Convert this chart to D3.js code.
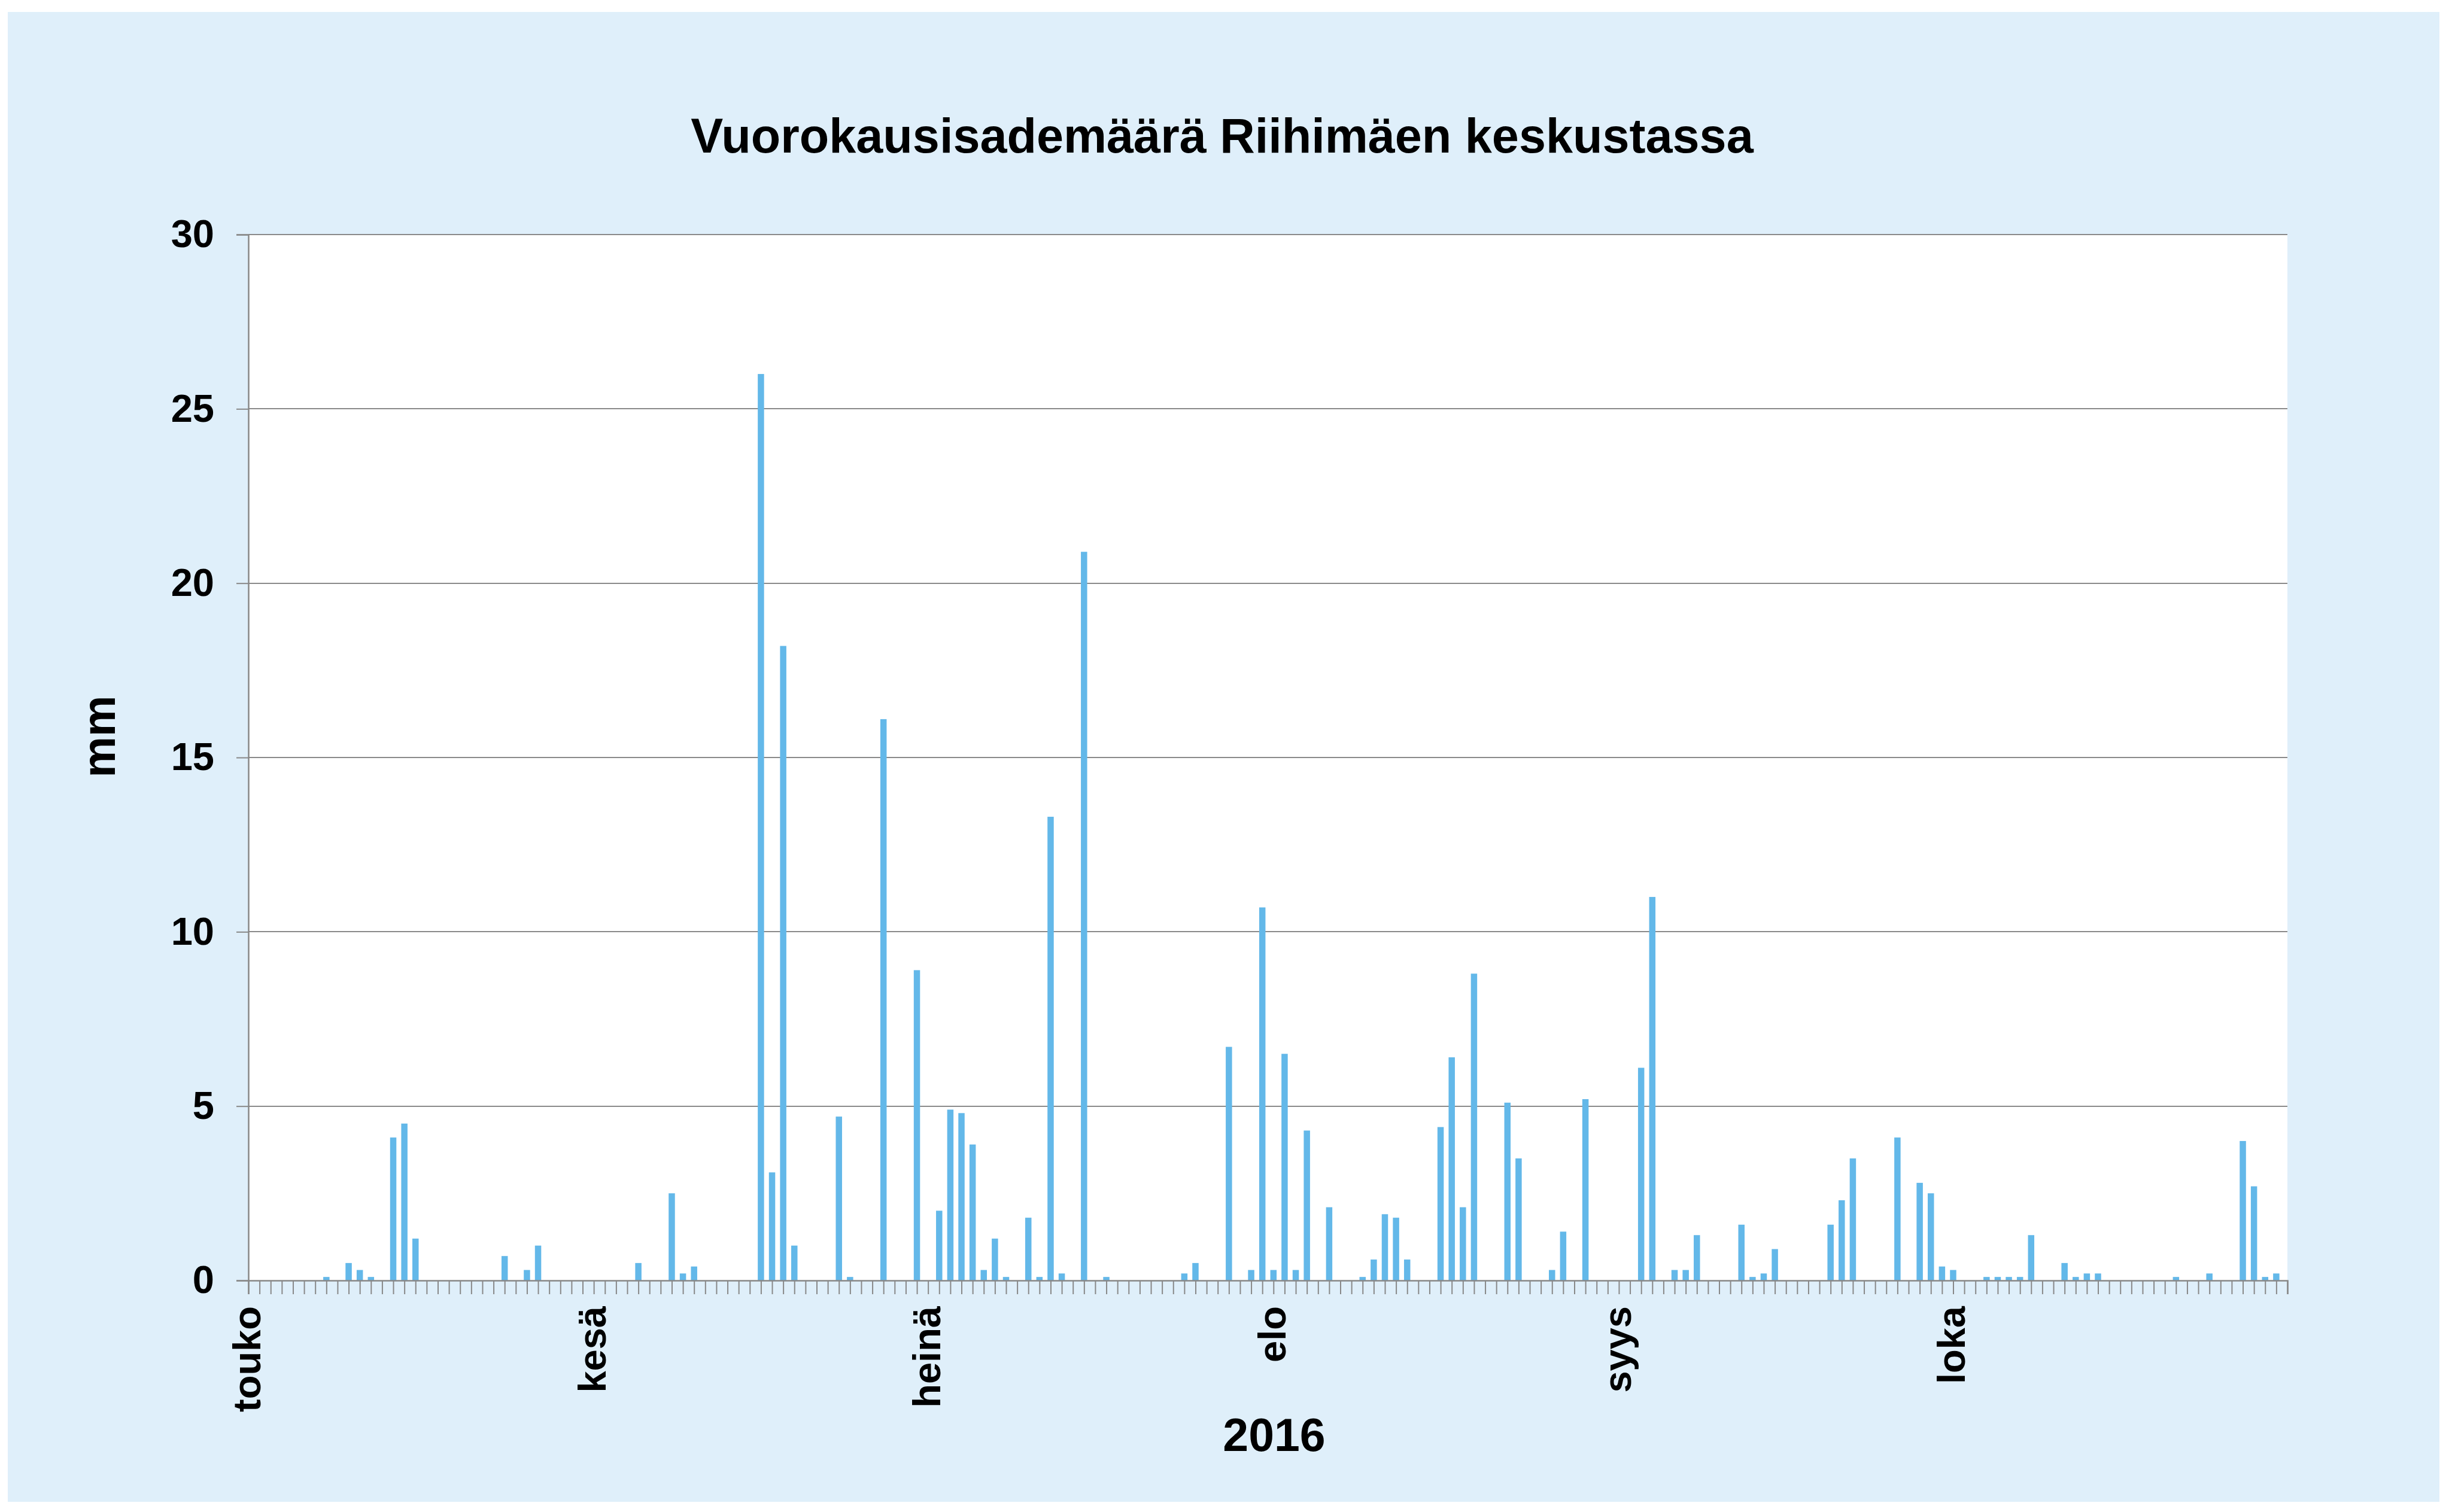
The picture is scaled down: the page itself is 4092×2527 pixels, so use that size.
<!DOCTYPE html>
<html lang="fi">
  <head>
    <meta charset="UTF-8" />
    <title>Vuorokausisademäärä Riihimäen keskustassa</title>
    <script src="https://d3js.org/d3.v7.min.js"></script>
    <style>
      html,
      body {
        margin: 0;
        padding: 0;
        background: #ffffff;
      }
      svg text {
        font-family: "Liberation Sans", Arial, sans-serif;
        font-weight: bold;
        fill: #000;
      }
    </style>
  </head>
  <body>
    <div id="viz"></div>
    <script>
      // rainy days only, every other day of the period is 0 mm
      const rainDays = [
        "2016-05-08", "2016-05-10", "2016-05-11", "2016-05-12", "2016-05-14",
        "2016-05-15", "2016-05-16", "2016-05-24", "2016-05-26", "2016-05-27",
        "2016-06-05", "2016-06-08", "2016-06-09", "2016-06-10", "2016-06-16",
        "2016-06-17", "2016-06-18", "2016-06-19", "2016-06-23", "2016-06-24",
        "2016-06-27", "2016-06-30", "2016-07-02", "2016-07-03", "2016-07-04",
        "2016-07-05", "2016-07-06", "2016-07-07", "2016-07-08", "2016-07-10",
        "2016-07-11", "2016-07-12", "2016-07-13", "2016-07-15", "2016-07-17",
        "2016-07-24", "2016-07-25", "2016-07-28", "2016-07-30", "2016-07-31",
        "2016-08-01", "2016-08-02", "2016-08-03", "2016-08-04", "2016-08-06",
        "2016-08-09", "2016-08-10", "2016-08-11", "2016-08-12", "2016-08-13",
        "2016-08-16", "2016-08-17", "2016-08-18", "2016-08-19", "2016-08-22",
        "2016-08-23", "2016-08-26", "2016-08-27", "2016-08-29", "2016-09-03",
        "2016-09-04", "2016-09-06", "2016-09-07", "2016-09-08", "2016-09-12",
        "2016-09-13", "2016-09-14", "2016-09-15", "2016-09-20", "2016-09-21",
        "2016-09-22", "2016-09-26", "2016-09-28", "2016-09-29", "2016-09-30",
        "2016-10-01", "2016-10-04", "2016-10-05", "2016-10-06", "2016-10-07",
        "2016-10-08", "2016-10-11", "2016-10-12", "2016-10-13", "2016-10-14",
        "2016-10-21", "2016-10-24", "2016-10-27", "2016-10-28", "2016-10-29",
        "2016-10-30"
      ];
      const rainMm = [
        0.1, 0.5, 0.3, 0.1, 4.1,
        4.5, 1.2, 0.7, 0.3, 1.0,
        0.5, 2.5, 0.2, 0.4, 26.0,
        3.1, 18.2, 1.0, 4.7, 0.1,
        16.1, 8.9, 2.0, 4.9, 4.8,
        3.9, 0.3, 1.2, 0.1, 1.8,
        0.1, 13.3, 0.2, 20.9, 0.1,
        0.2, 0.5, 6.7, 0.3, 10.7,
        0.3, 6.5, 0.3, 4.3, 2.1,
        0.1, 0.6, 1.9, 1.8, 0.6,
        4.4, 6.4, 2.1, 8.8, 5.1,
        3.5, 0.3, 1.4, 5.2, 6.1,
        11.0, 0.3, 0.3, 1.3, 1.6,
        0.1, 0.2, 0.9, 1.6, 2.3,
        3.5, 4.1, 2.8, 2.5, 0.4,
        0.3, 0.1, 0.1, 0.1, 0.1,
        1.3, 0.5, 0.1, 0.2, 0.2,
        0.1, 0.2, 4.0, 2.7, 0.1,
        0.2
      ];
      const periodStart = "2016-05-01";
      const periodEnd = "2016-10-31";
      const monthStarts = ["2016-05-01", "2016-06-01", "2016-07-01", "2016-08-01", "2016-09-01", "2016-10-01"];
      const monthLabels = ["touko", "kesä", "heinä", "elo", "syys", "loka"];
      const yTicks = [0, 5, 10, 15, 20, 25, 30];

      const W = 4092, H = 2527;
      const margin = { top: 392, right: 270, bottom: 387, left: 415 };
      const width = W - margin.left - margin.right;
      const height = H - margin.top - margin.bottom;
      const parse = d3.utcParse("%Y-%m-%d");

      const svg = d3.select("#viz").append("svg").attr("width", W).attr("height", H);

      // light blue chart area
      svg.append("rect").attr("x", 13).attr("y", 20).attr("width", 4063).attr("height", 2490).attr("fill", "#dfeffa");

      const g = svg.append("g").attr("transform", `translate(${margin.left},${margin.top})`);
      g.append("rect").attr("width", width).attr("height", height).attr("fill", "#ffffff");

      const x = d3.scaleUtc().domain([parse(periodStart), parse(periodEnd)]).range([0, width]);
      const y = d3.scaleLinear().domain([0, 30]).range([height, 0]);

      // gridlines
      g.append("g")
        .selectAll("line")
        .data(yTicks.filter((t) => t > 0))
        .join("line")
        .attr("x1", 0)
        .attr("x2", width)
        .attr("y1", (d) => Math.round(y(d)))
        .attr("y2", (d) => Math.round(y(d)))
        .attr("stroke", "#8a8a8a")
        .attr("stroke-width", 2.5)
        .attr("shape-rendering", "crispEdges");

      // bars
      const barW = 10.5;
      const data = rainDays.map((d, i) => ({ date: parse(d), mm: rainMm[i] }));
      g.append("g")
        .selectAll("rect")
        .data(data)
        .join("rect")
        .attr("x", (d) => x(d.date) - barW / 2)
        .attr("y", (d) => y(d.mm))
        .attr("width", barW)
        .attr("height", (d) => height - y(d.mm))
        .attr("fill", "#63b8e9");

      // y axis
      const yAxis = g.append("g").call(d3.axisLeft(y).tickValues(yTicks).tickSize(20).tickPadding(37));
      yAxis.select(".domain").attr("stroke", "#888888").attr("stroke-width", 2.5);
      yAxis.selectAll(".tick line").attr("stroke", "#888888").attr("stroke-width", 2);
      yAxis.selectAll("text").style("font-size", "65px").attr("fill", "#000");

      // day ticks on x axis
      const dayAxis = g.append("g").attr("transform", `translate(0,${height})`)
        .call(d3.axisBottom(x).ticks(d3.utcDay.every(1)).tickSize(23).tickFormat(""));
      dayAxis.select(".domain").attr("stroke", "#888888").attr("stroke-width", 2.5);
      dayAxis.selectAll(".tick line").attr("stroke", "#888888").attr("stroke-width", 2);

      // month labels
      const monthAxis = g.append("g").attr("transform", `translate(0,${height})`)
        .call(d3.axisBottom(x).tickValues(monthStarts.map(parse)).tickSize(0)
          .tickFormat((d, i) => monthLabels[i]));
      monthAxis.select(".domain").remove();
      monthAxis.selectAll("text")
        .style("font-size", "65px")
        .attr("fill", "#000")
        .attr("text-anchor", "end")
        .attr("transform", "rotate(-90)")
        .attr("x", -43)
        .attr("y", 0)
        .attr("dy", "0.3em");

      // titles
      svg.append("text").attr("x", 2042).attr("y", 255).attr("text-anchor", "middle")
        .style("font-size", "81px").text("Vuorokausisademäärä Riihimäen keskustassa");
      svg.append("text").attr("x", 2129).attr("y", 2425).attr("text-anchor", "middle")
        .style("font-size", "77px").text("2016");
      svg.append("text").attr("transform", "translate(192,1231) rotate(-90)").attr("text-anchor", "middle")
        .style("font-size", "77px").text("mm");
    </script>
  </body>
</html>
